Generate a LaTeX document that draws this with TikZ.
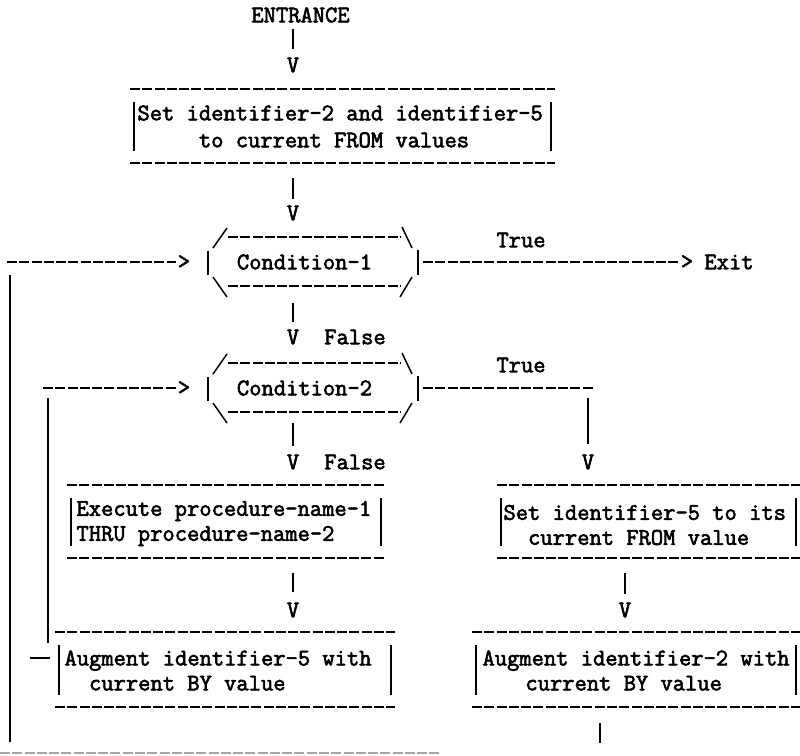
\documentclass[tikz,border=0pt]{standalone}
\usepackage{fontspec}
\newfontfamily\twfont{Latin Modern Mono}[FakeBold=2.5]
\newcommand\tw{\twfont\fontsize{23.85}{25}\selectfont}
\newcommand\twwide{\twfont\fontsize{23.85}{27}\selectfont}
\tikzset{
  txt/.style={font=\tw, inner sep=0pt, outer sep=0pt},
  hline/.style={line width=2pt, dash pattern=on 10pt off 2.27pt},
  vbar/.style={line width=1.7pt},
  slash/.style={line width=1.5pt},
  frame/.style={inner sep=0pt, outer sep=0pt, draw=none},
}
% ascii box: name, cx, cy, width, height
\newcommand\abox[5]{%
  \node[frame, minimum width=#4, minimum height=#5] (#1) at (#2,#3) {};
  \draw[hline] (#1.north west) -- (#1.north east);
  \draw[hline] (#1.south west) -- (#1.south east);
  \draw[vbar] ([xshift=4pt,yshift=-13pt]#1.north west) -- ([xshift=4pt,yshift=12pt]#1.south west);
  \draw[vbar] ([xshift=-4pt,yshift=-13pt]#1.north east) -- ([xshift=-4pt,yshift=12pt]#1.south east);
}
% ascii hexagon: name, text, cy
\newcommand\ahex[3]{%
  \node[frame, minimum width=210, minimum height=70] (#1) at (313,#3) {};
  \node[txt] (#1t) at (304.5,#3) {#2};
  \draw[hline] (228,#3-25) -- (400,#3-25);
  \draw[hline] (228,#3+24) -- (400,#3+24);
  \draw[slash] (213,#3-14) -- (227,#3-34);
  \draw[slash] (213,#3+15) -- (227,#3+35);
  \draw[slash] (402,#3-35) -- (412,#3-14);
  \draw[slash] (412,#3+15) -- (400,#3+35);
  \draw[vbar] (208,#3-11) -- (208,#3+13);
  \draw[vbar] (418,#3-12) -- (418,#3+13);
}
\begin{document}
\begin{tikzpicture}[x=1pt,y=-1pt]
\useasboundingbox (0,0) rectangle (800,755);

% top
\node[txt] (ent) at (300.5,15) {ENTRANCE};
\node[txt] (v1) at (293,65) {V};
\draw[vbar, shorten <=6pt, shorten >=9pt] (ent.south -| v1) -- (v1.north);

\abox{bx1}{342.5}{126}{425}{74}
\node[txt, anchor=west, align=left, font=\twwide] (t1) at (137.5,126.5)
  {Set identifier-2 and identifier-5\\\phantom{xxxxx}to current FROM values};

\node[txt] (v2) at (293,213) {V};
\draw[vbar, shorten <=15pt, shorten >=7pt] (bx1.south -| v2) -- (v2.north);

% condition 1
\ahex{h1}{Condition-1}{262}
\node[txt] (g1) at (184,262) {>};
\coordinate (in1) at (7,262);
\draw[hline] (in1) -- ([xshift=-2pt]g1.west);
\node[txt] (tr1) at (521,240) {True};
\node[txt] (g3) at (687,262) {>};
\node[txt] (exit) at (729,262) {Exit};
\draw[hline, shorten <=5pt] (h1.east) -- ([xshift=-2pt]g3.west);

\node[txt] (v3) at (293,337) {V};
\node[txt] (f1) at (355,337) {False};
\draw[vbar, shorten <=6pt, shorten >=8pt] (h1.south -| v3) -- (v3.north);

% outer loop line
\coordinate (ol1) at (10,275);
\coordinate (ol2) at (10,742);
\draw[vbar] (ol1) -- (ol2);
\coordinate (bl1) at (0,753);
\coordinate (bl2) at (440,753);
\draw[hline, draw=black!35, line width=1.6pt] (bl1) -- (bl2);

% condition 2
\ahex{h2}{Condition-2}{388}
\node[txt] (g2) at (184,388) {>};
\coordinate (in2) at (43,388);
\draw[hline] (in2) -- ([xshift=-2pt]g2.west);
\node[txt] (tr2) at (521,365) {True};
\coordinate (k2) at (593,388);
\draw[hline, shorten <=5pt] (h2.east) -- (k2);

\node[txt] (v4) at (293,462) {V};
\node[txt] (f2) at (355,462) {False};
\draw[vbar, shorten <=0pt, shorten >=9pt] (h2.south -| v4) -- (v4.north);

\node[txt] (v6) at (588,462) {V};
\draw[vbar, shorten <=10pt, shorten >=11pt] (k2 -| v6) -- (v6.north);

% execute box
\abox{bx3}{226}{521.5}{318}{73}
\node[txt, anchor=west, align=left] (t3) at (76.5,523.5)
  {Execute procedure-name-1\\THRU procedure-name-2};

% set identifier-5 box
\abox{bx4}{648.5}{521.5}{303}{73}
\node[txt, anchor=west, align=left] (t4) at (503.5,525)
  {Set identifier-5 to its\\\phantom{xx}current FROM value};

\node[txt] (v5) at (293,610) {V};
\draw[vbar, shorten <=15pt, shorten >=11pt] (bx3.south -| v5) -- (v5.north);
\node[txt] (v7) at (625,610) {V};
\draw[vbar, shorten <=15pt, shorten >=9pt] (bx4.south -| v7) -- (v7.north);

% augment boxes
\abox{bx5}{225}{669.5}{340}{75}
\node[txt, anchor=west, align=left] (t5) at (64.5,670.5)
  {Augment identifier-5 with\\\phantom{xx}current BY value};
\abox{bx6}{636}{669.5}{328}{75}
\node[txt, anchor=west, align=left] (t6) at (482.5,670.5)
  {Augment identifier-2 with\\\hspace*{1.8em}current BY value};

% inner loop
\coordinate (il1) at (48,398);
\coordinate (il2) at (48,643);
\draw[vbar] (il1) -- (il2);
\coordinate (stub) at (30,658);
\draw[line width=1.8pt, shorten >=5pt] (stub) -- (stub -| bx5.west);

% bottom exit bar
\coordinate (bb) at (600,743);
\draw[vbar, shorten <=16pt] (bx6.south -| bb) -- (bb);
\end{tikzpicture}
\end{document}
